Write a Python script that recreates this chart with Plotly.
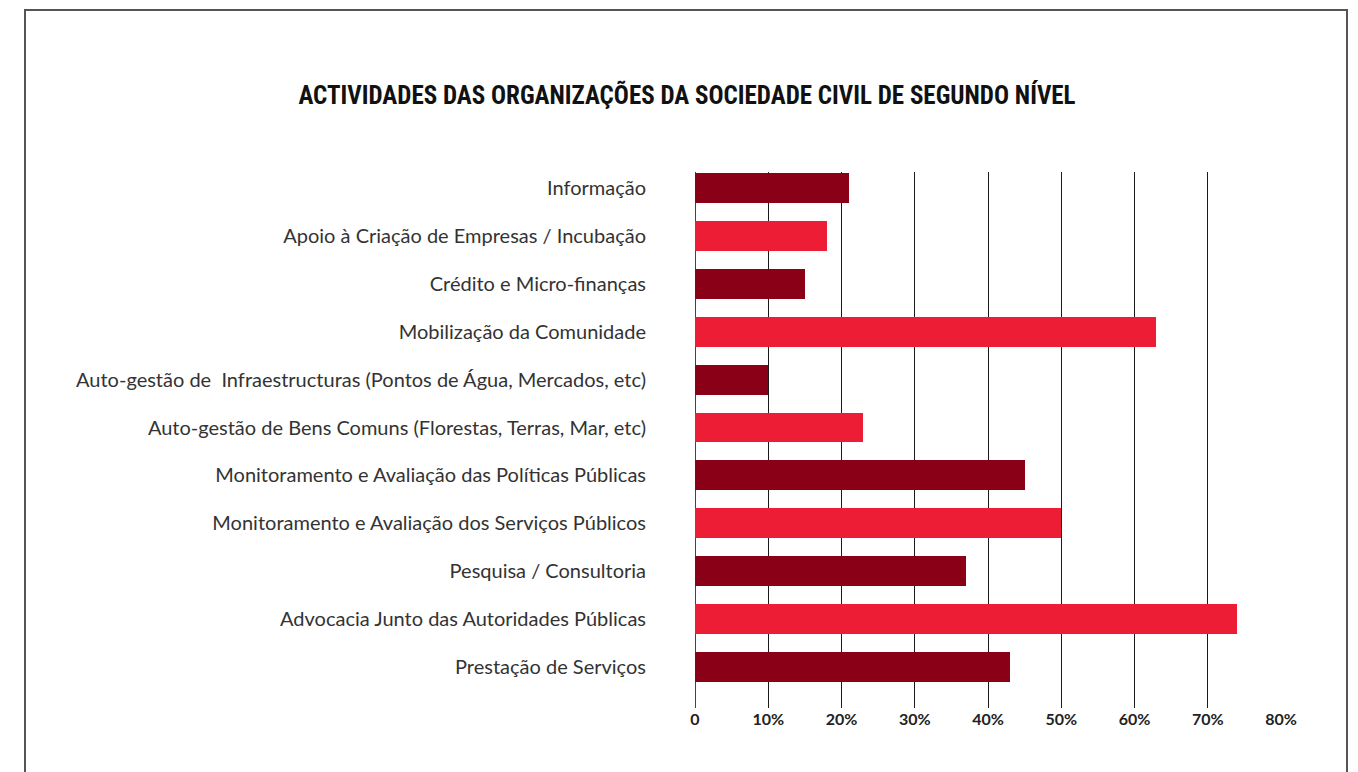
import plotly.graph_objects as go

categories = [
    "Informação",
    "Apoio à Criação de Empresas / Incubação",
    "Crédito e Micro-finanças",
    "Mobilização da Comunidade",
    "Auto-gestão de  Infraestructuras (Pontos de Água, Mercados, etc)",
    "Auto-gestão de Bens Comuns (Florestas, Terras, Mar, etc)",
    "Monitoramento e Avaliação das Políticas Públicas",
    "Monitoramento e Avaliação dos Serviços Públicos",
    "Pesquisa / Consultoria",
    "Advocacia Junto das Autoridades Públicas",
    "Prestação de Serviços",
]
values = [21, 18, 15, 63, 10, 23, 45, 50, 37, 74, 43]
tick_values = [0, 10, 20, 30, 40, 50, 60, 70, 80]
tick_labels = ["0", "10%", "20%", "30%", "40%", "50%", "60%", "70%", "80%"]
title = "ACTIVIDADES DAS ORGANIZAÇÕES DA SOCIEDADE CIVIL DE SEGUNDO NÍVEL"

DARK = "#8A0016"
BRIGHT = "#EE1D36"
colors = [DARK if i % 2 == 0 else BRIGHT for i in range(len(categories))]
positions = list(range(len(categories)))

fig = go.Figure(
    go.Bar(
        x=values,
        y=positions,
        orientation="h",
        marker=dict(color=colors, line=dict(width=0)),
        width=0.625,
        hoverinfo="x+text",
        text=categories,
        textposition="none",
    )
)

W, H = 1358, 772
L, R, T, B = 695, 77, 172, 64
pw, ph = W - L - R, H - T - B

def px_to_paper_x(px):
    return (px - L) / pw

def px_to_paper_y(py):
    return (H - B - py) / ph

fig.update_layout(
    width=W,
    height=H,
    margin=dict(l=L, r=R, t=T, b=B, pad=0),
    paper_bgcolor="white",
    plot_bgcolor="white",
    showlegend=False,
    bargap=0,
    title=dict(
        text=title,
        x=687 / W,
        xref="container",
        xanchor="center",
        y=1 - 95 / H,
        yref="container",
        yanchor="middle",
        font=dict(family="Roboto Condensed, DejaVu Sans Condensed, Roboto, sans-serif",
                  size=25, color="#111111", weight="bold"),
    ),
    xaxis=dict(
        range=[0, 80],
        tickvals=tick_values,
        ticktext=tick_labels,
        showgrid=True,
        gridcolor="#1a1a1a",
        gridwidth=1.3,
        zeroline=True,
        zerolinecolor="#444444",
        zerolinewidth=1.3,
        showline=False,
        ticks="",
        tickfont=dict(family="Lato, sans-serif", size=16, color="#222222", weight="bold"),
        fixedrange=True,
    ),
    yaxis=dict(
        range=[10.854, -0.333],
        tickvals=positions,
        ticktext=categories,
        showgrid=False,
        zeroline=False,
        showline=False,
        ticks="",
        ticklabelstandoff=48,
        tickfont=dict(family="Lato, sans-serif", size=20, color="#333333"),
        fixedrange=True,
    ),
    shapes=[
        dict(
            type="rect",
            xref="paper", yref="paper",
            x0=px_to_paper_x(25), x1=px_to_paper_x(1347),
            y0=px_to_paper_y(800), y1=px_to_paper_y(10),
            line=dict(color="#555555", width=2),
            fillcolor="rgba(0,0,0,0)",
            layer="above",
        )
    ],
)

fig.write_html(
    "out.html",
    config={"displayModeBar": False},
    post_script="document.body.style.margin='0';document.body.style.overflow='hidden';",
)
